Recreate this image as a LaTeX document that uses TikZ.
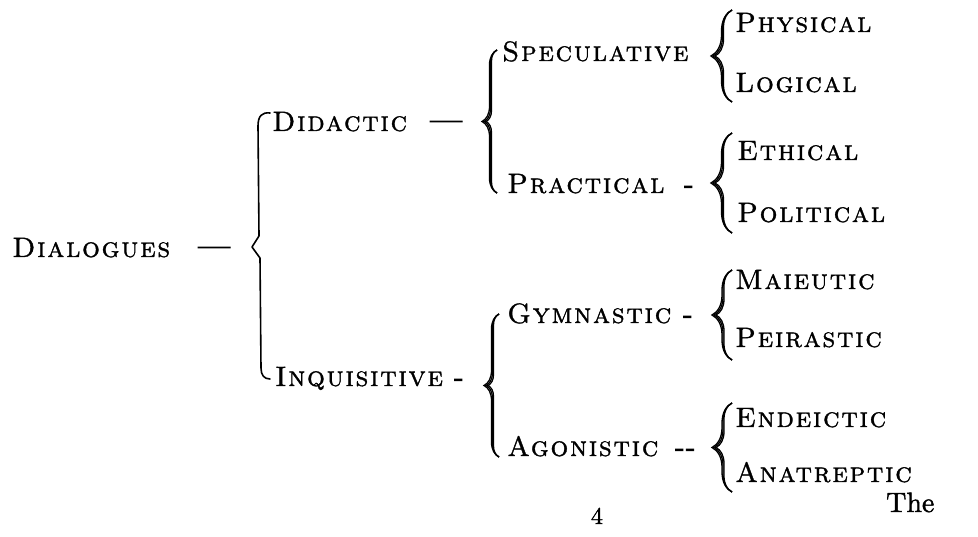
\documentclass[tikz,border=0pt]{standalone}
\usepackage{fontspec}
\usetikzlibrary{decorations.pathreplacing}
\newfontfamily\scfont{lmromancaps10-regular.otf}[LetterSpace=6,FakeBold=1.2]
\newfontfamily\heavyfont{lmroman10-regular.otf}[FakeBold=3]
\newfontfamily\printfont{lmroman10-regular.otf}[FakeBold=1.5]
\newcommand{\fbr}[4]{% x, ybottom, ytop, amplitude
  \draw[bracestroke, decoration={brace, amplitude=#4pt}] (#1,#2) -- (#1,#3);
  \draw[bracestroke, decoration={brace, amplitude=#4pt-2pt}] (#1,#2) -- (#1,#3);
  \draw[bracestroke, decoration={brace, amplitude=#4pt-4pt}] (#1,#2) -- (#1,#3);
}
\begin{document}
\begin{tikzpicture}[x=1pt,y=1pt,
  lbl/.style={anchor=base west, inner sep=0pt, font=\scfont\fontsize{28}{30}\selectfont},
  emdsh/.style={anchor=base west, inner sep=0pt, font=\heavyfont\fontsize{32}{34}\selectfont},
  dsh/.style={anchor=base west, inner sep=0pt, font=\heavyfont\fontsize{28}{30}\selectfont},
  pg/.style={anchor=base, inner sep=0pt, font=\printfont\fontsize{24}{26}\selectfont},
  bracestroke/.style={decorate, line width=1.3pt},
  thinbrace/.style={line width=1.6pt, line cap=round, line join=round}
]
\useasboundingbox (0,0) rectangle (978,-537);
% level 1
\node[lbl] (dial) at (12,-257) {Dialogues};
\node[emdsh] (d0) at (198,-256) {—};
% level 2
\node[lbl] (did) at (272,-131) {Didactic};
\node[emdsh] (d1) at (430,-130) {—};
\node[lbl] (inq) at (275,-386) {Inquisitive};
\node[dsh] (d2) at (454,-386) {-};
% level 3
\node[lbl] (spec) at (502,-61) {Speculative};
\node[lbl] (prac) at (507,-193) {Practical};
\node[dsh] (d3) at (684,-193) {-};
\node[lbl] (gym) at (507,-323) {Gymnastic};
\node[dsh] (d4) at (683,-323) {-};
\node[lbl] (agon) at (507,-456) {Agonistic};
\node[dsh] (d5) at (675,-456) {-\kern1.5pt-};
% level 4
\node[lbl] (phys) at (735,-32) {Physical};
\node[lbl] (log) at (735,-92) {Logical};
\node[lbl] (eth) at (737,-160) {Ethical};
\node[lbl] (pol) at (737,-222) {Political};
\node[lbl] (mai) at (735,-289) {Maieutic};
\node[lbl] (pei) at (735,-347) {Peirastic};
\node[lbl] (end) at (735,-427) {Endeictic};
\node[lbl] (ana) at (735,-482) {Anatreptic};
% page furniture
\node[pg] (num) at (597,-524) {4};
\node[anchor=base west, inner sep=0pt, font=\printfont\fontsize{28}{30}\selectfont] (the) at (886,-512) {The};
% braces
\draw[thinbrace] (270,-113) .. controls (262,-112) and (258,-116) .. (258,-126)
  -- (259,-236) -- (252,-247) -- (260,-258) -- (261,-368)
  .. controls (261,-375) and (264,-379) .. (270,-379);
\fbr{497}{-193}{-50}{15}
\fbr{499}{-457}{-314}{15}
\fbr{732}{-102}{-10}{21}
\fbr{732}{-233}{-133}{21}
\fbr{732}{-360}{-270}{20}
\fbr{732}{-492}{-403}{20}
\end{tikzpicture}
\end{document}
